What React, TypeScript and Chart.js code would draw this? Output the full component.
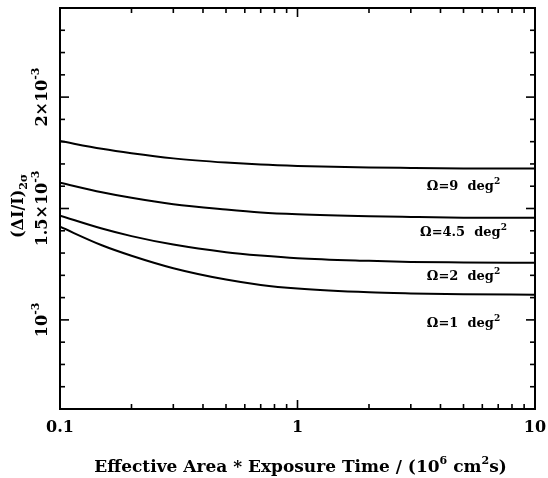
import { useEffect, useRef } from "react";
import { Chart, registerables } from "chart.js";

Chart.register(...registerables);

// Exposure (effective area * time) in units of 10^6 cm^2 s
const exposure = [0.1, 0.15, 0.2, 0.3, 0.5, 0.7, 1, 2, 3, 5, 10];

// 2-sigma fractional fluctuation for each sky solid angle
const sky9 = [1.803e-3, 1.768e-3, 1.748e-3, 1.725e-3, 1.706e-3, 1.697e-3, 1.691e-3, 1.684e-3, 1.682e-3, 1.68e-3, 1.679e-3];
const sky45 = [1.616e-3, 1.573e-3, 1.548e-3, 1.519e-3, 1.495e-3, 1.482e-3, 1.474e-3, 1.465e-3, 1.462e-3, 1.459e-3, 1.458e-3];
const sky2 = [1.468e-3, 1.41e-3, 1.376e-3, 1.338e-3, 1.304e-3, 1.289e-3, 1.277e-3, 1.265e-3, 1.26e-3, 1.258e-3, 1.256e-3];
const sky1 = [1.418e-3, 1.335e-3, 1.288e-3, 1.232e-3, 1.181e-3, 1.157e-3, 1.141e-3, 1.124e-3, 1.119e-3, 1.115e-3, 1.113e-3];

// Curve annotations
const curveNames = ["Ω=9", "Ω=4.5", "Ω=2", "Ω=1"];
const curveLabelX = 5;
const curveLabelY = [1.603e-3, 1.393e-3, 1.198e-3, 0.988e-3];

// Axis ranges and ticks
const xMin = 0.1;
const xMax = 10;
const yMin = 0.6e-3;
const yMax = 2.4e-3;
const xMajorTicks = [0.1, 1, 10];
const xMajorLabels = ["0.1", "1", "10"];
const xMinorTicks = [0.2, 0.3, 0.4, 0.5, 0.6, 0.7, 0.8, 0.9, 2, 3, 4, 5, 6, 7, 8, 9];
const yMajorTicks = [1e-3, 1.5e-3, 2e-3];
const yMajorLabels = ["10", "1.5×10", "2×10"];
const yLabelExponent = "-3";
const yMinorTicks = [0.6e-3, 0.7e-3, 0.8e-3, 0.9e-3, 1.1e-3, 1.2e-3, 1.3e-3, 1.4e-3, 1.6e-3, 1.7e-3, 1.8e-3, 1.9e-3, 2.1e-3, 2.2e-3, 2.3e-3, 2.4e-3];

const FONT = '"DejaVu Serif", serif';

type Part = { text: string; size: number; dy: number };

function drawParts(ctx: CanvasRenderingContext2D, parts: Part[], cx: number, baseline: number) {
  let total = 0;
  const widths = parts.map((p) => {
    ctx.font = `bold ${p.size}px ${FONT}`;
    const w = ctx.measureText(p.text).width;
    total += w;
    return w;
  });
  let x = cx - total / 2;
  ctx.textAlign = "left";
  ctx.textBaseline = "alphabetic";
  parts.forEach((p, i) => {
    ctx.font = `bold ${p.size}px ${FONT}`;
    ctx.fillText(p.text, x, baseline + p.dy);
    x += widths[i];
  });
}

const framePlugin = {
  id: "frameAndLabels",
  afterDraw(chart: any) {
    const { ctx, chartArea: a, scales } = chart;
    const xs = scales.x;
    const ys = scales.y;
    ctx.save();
    ctx.strokeStyle = "#000";
    ctx.fillStyle = "#000";

    // inward ticks on all four sides
    ctx.lineWidth = 1.6;
    const seg = (x1: number, y1: number, x2: number, y2: number) => {
      ctx.beginPath();
      ctx.moveTo(x1, y1);
      ctx.lineTo(x2, y2);
      ctx.stroke();
    };
    const xTick = (v: number, len: number) => {
      const px = xs.getPixelForValue(v);
      seg(px, a.bottom, px, a.bottom - len);
      seg(px, a.top, px, a.top + len);
    };
    const yTick = (v: number, len: number) => {
      const py = ys.getPixelForValue(v);
      seg(a.left, py, a.left + len, py);
      seg(a.right, py, a.right - len, py);
    };
    xMajorTicks.forEach((v) => xTick(v, 9));
    xMinorTicks.forEach((v) => xTick(v, 5));
    yMajorTicks.forEach((v) => yTick(v, 9));
    yMinorTicks.forEach((v) => yTick(v, 5));

    // frame
    ctx.lineWidth = 2;
    ctx.strokeRect(a.left, a.top, a.right - a.left, a.bottom - a.top);

    // x tick labels
    xMajorTicks.forEach((v, i) => {
      drawParts(ctx, [{ text: xMajorLabels[i], size: 16, dy: 0 }], xs.getPixelForValue(v), a.bottom + 23);
    });

    // x axis title
    drawParts(
      ctx,
      [
        { text: "Effective Area * Exposure Time / (10", size: 17, dy: 0 },
        { text: "6", size: 11, dy: -8 },
        { text: " cm", size: 17, dy: 0 },
        { text: "2", size: 11, dy: -8 },
        { text: "s)", size: 17, dy: 0 },
      ],
      (a.left + a.right) / 2 + 3,
      a.bottom + 63
    );

    // y tick labels (rotated)
    yMajorTicks.forEach((v, i) => {
      ctx.save();
      ctx.translate(a.left - 13, ys.getPixelForValue(v));
      ctx.rotate(-Math.PI / 2);
      drawParts(
        ctx,
        [
          { text: yMajorLabels[i], size: 16, dy: 0 },
          { text: yLabelExponent, size: 11, dy: -8 },
        ],
        0,
        0
      );
      ctx.restore();
    });

    // y axis title (rotated)
    ctx.save();
    ctx.translate(a.left - 37, 206);
    ctx.rotate(-Math.PI / 2);
    drawParts(
      ctx,
      [
        { text: "(ΔI/I)", size: 16, dy: 0 },
        { text: "2σ", size: 11, dy: 4 },
      ],
      0,
      0
    );
    ctx.restore();

    // curve annotations
    curveNames.forEach((name, i) => {
      drawParts(
        ctx,
        [
          { text: name + "  deg", size: 13, dy: 0 },
          { text: "2", size: 9, dy: -6 },
        ],
        xs.getPixelForValue(curveLabelX),
        ys.getPixelForValue(curveLabelY[i]) + 4
      );
    });

    ctx.restore();
  },
};

export default function App() {
  const canvasRef = useRef<HTMLCanvasElement | null>(null);

  useEffect(() => {
    const canvas = canvasRef.current;
    if (!canvas) return;
    const series = [sky9, sky45, sky2, sky1];
    const chart = new Chart(canvas, {
      type: "line",
      data: {
        datasets: series.map((s, k) => ({
          label: curveNames[k],
          data: exposure.map((x, i) => ({ x, y: s[i] })),
          borderColor: "#000",
          borderWidth: 2,
          pointRadius: 0,
          fill: false,
          cubicInterpolationMode: "monotone" as const,
        })),
      },
      options: {
        animation: false,
        responsive: false,
        devicePixelRatio: 1,
        events: [],
        layout: { padding: { left: 60, right: 13, top: 8, bottom: 69 } },
        plugins: { legend: { display: false }, tooltip: { enabled: false } },
        scales: {
          x: { type: "logarithmic", min: xMin, max: xMax, display: false },
          y: { type: "linear", min: yMin, max: yMax, display: false },
        },
      },
      plugins: [framePlugin],
    });
    return () => chart.destroy();
  }, []);

  return (
    <div style={{ position: "absolute", left: 0, top: 0, width: 548, height: 478, background: "#fff" }}>
      <canvas ref={canvasRef} width={548} height={478} />
    </div>
  );
}
